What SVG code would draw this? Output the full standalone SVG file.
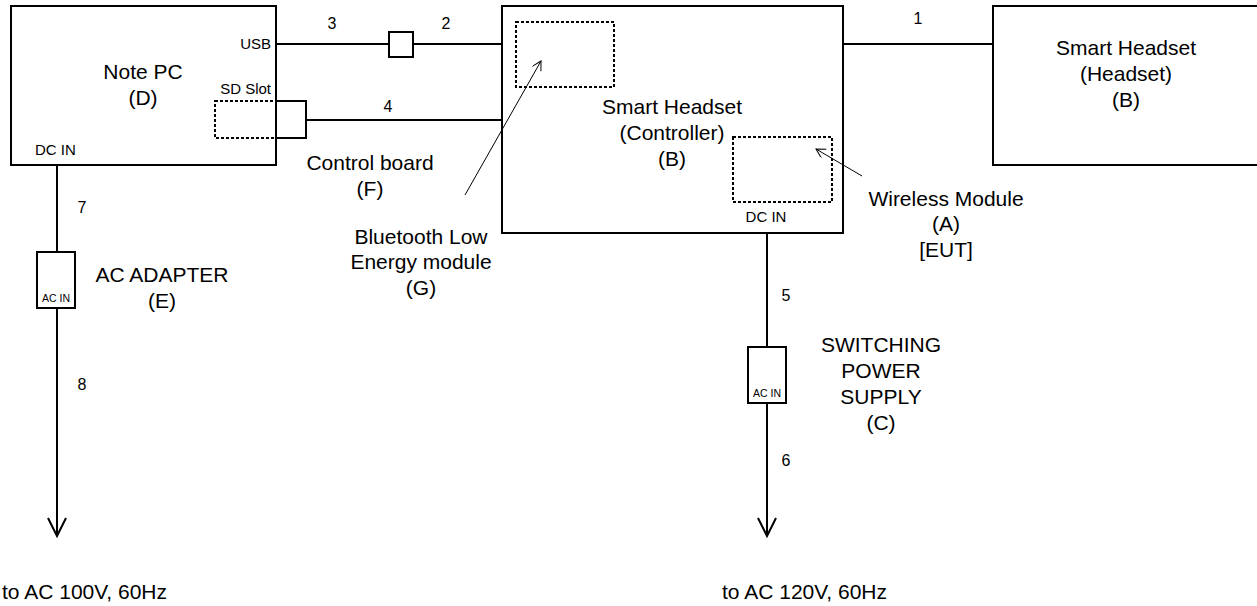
<svg xmlns="http://www.w3.org/2000/svg" width="1257" height="606" viewBox="0 0 1257 606">
<defs>
<style>
.box{fill:none;stroke:#000;stroke-width:2}
.dot{fill:none;stroke:#000;stroke-width:2;stroke-dasharray:3,2}
.ln{fill:none;stroke:#000;stroke-width:2}
.thin{fill:none;stroke:#000;stroke-width:1}
text{font-family:"Liberation Sans",Arial,sans-serif;fill:#000}
.big{font-size:21px;text-anchor:middle}
.bigl{font-size:21px;text-anchor:start}
.sm{font-size:15px}
.smr{font-size:15px;text-anchor:end}
.smc{font-size:15px;text-anchor:middle}
.num{font-size:16px;text-anchor:middle}
.tiny{font-size:10.5px;text-anchor:middle}
</style>
<marker id="open" markerWidth="12" markerHeight="12" refX="10" refY="5" orient="auto" markerUnits="userSpaceOnUse">
<path d="M1,0 L10,5 L1,10" fill="none" stroke="#000" stroke-width="1"/>
</marker>
</defs>
<rect width="1257" height="606" fill="#fff"/>
<g id="notepc">
<rect class="box" x="11" y="6" width="265" height="159"/>
<rect class="dot" x="215" y="101" width="61" height="37"/>
<text class="big" x="143" y="79">Note PC</text>
<text class="big" x="143" y="105">(D)</text>
<text class="smr" x="271" y="49">USB</text>
<text class="smr" x="271" y="94">SD Slot</text>
<text class="sm" x="35" y="155">DC IN</text>
</g>
<g id="controller">
<rect class="box" x="502" y="6" width="341" height="227"/>
<rect class="dot" x="516" y="22" width="98" height="65"/>
<rect class="dot" x="733" y="137" width="99" height="65"/>
<text class="big" x="672" y="114">Smart Headset</text>
<text class="big" x="672" y="140">(Controller)</text>
<text class="big" x="672" y="166">(B)</text>
<text class="smc" x="766" y="222">DC IN</text>
</g>
<g id="headset">
<rect class="box" x="993" y="6" width="265" height="159"/>
<text class="big" x="1126" y="55">Smart Headset</text>
<text class="big" x="1126" y="81">(Headset)</text>
<text class="big" x="1126" y="107">(B)</text>
</g>
<g id="controlboard">
<text class="big" x="370" y="170">Control board</text>
<text class="big" x="370" y="196">(F)</text>
</g>
<g id="ble">
<text class="big" x="421" y="244">Bluetooth Low</text>
<text class="big" x="421" y="269">Energy module</text>
<text class="big" x="421" y="295">(G)</text>
</g>
<g id="wireless">
<text class="big" x="946" y="206">Wireless Module</text>
<text class="big" x="946" y="231">(A)</text>
<text class="big" x="946" y="257">[EUT]</text>
</g>
<g id="acadapter">
<rect class="box" x="37" y="252" width="38" height="56"/>
<text class="tiny" x="56" y="302">AC IN</text>
<text class="big" x="162" y="282">AC ADAPTER</text>
<text class="big" x="162" y="308">(E)</text>
</g>
<g id="switching">
<rect class="box" x="748" y="347" width="38" height="56"/>
<text class="tiny" x="767" y="397">AC IN</text>
<text class="big" x="881" y="352">SWITCHING</text>
<text class="big" x="881" y="378">POWER</text>
<text class="big" x="881" y="404">SUPPLY</text>
<text class="big" x="881" y="430">(C)</text>
</g>
<g id="mains">
<text class="bigl" x="2" y="599">to AC 100V, 60Hz</text>
<text class="bigl" x="722" y="599">to AC 120V, 60Hz</text>
</g>
<g id="connectors">
<line class="ln" x1="276" y1="44" x2="389" y2="44"/>
<line class="ln" x1="413" y1="44" x2="502" y2="44"/>
<rect class="box" x="389" y="32" width="24" height="25"/>
<polyline class="ln" points="276,101 306,101 306,138 276,138"/>
<line class="ln" x1="306" y1="120" x2="502" y2="120"/>
<line class="ln" x1="843" y1="44" x2="993" y2="44"/>
<line class="ln" x1="57" y1="165" x2="57" y2="252"/>
<line class="ln" x1="57" y1="308" x2="57" y2="536"/>
<polyline class="ln" points="48,518 57,536 66,518"/>
<line class="ln" x1="767" y1="233" x2="767" y2="347"/>
<line class="ln" x1="767" y1="403" x2="767" y2="536"/>
<polyline class="ln" points="758,518 767,536 776,518"/>
<line class="thin" x1="465" y1="195" x2="541" y2="61" marker-end="url(#open)"/>
<line class="thin" x1="862" y1="176" x2="816" y2="149" marker-end="url(#open)"/>
<text class="num" x="332" y="29">3</text>
<text class="num" x="446" y="29">2</text>
<text class="num" x="388" y="112">4</text>
<text class="num" x="918" y="24">1</text>
<text class="num" x="82" y="213">7</text>
<text class="num" x="82" y="390">8</text>
<text class="num" x="786" y="301">5</text>
<text class="num" x="786" y="466">6</text>
</g>
</svg>
